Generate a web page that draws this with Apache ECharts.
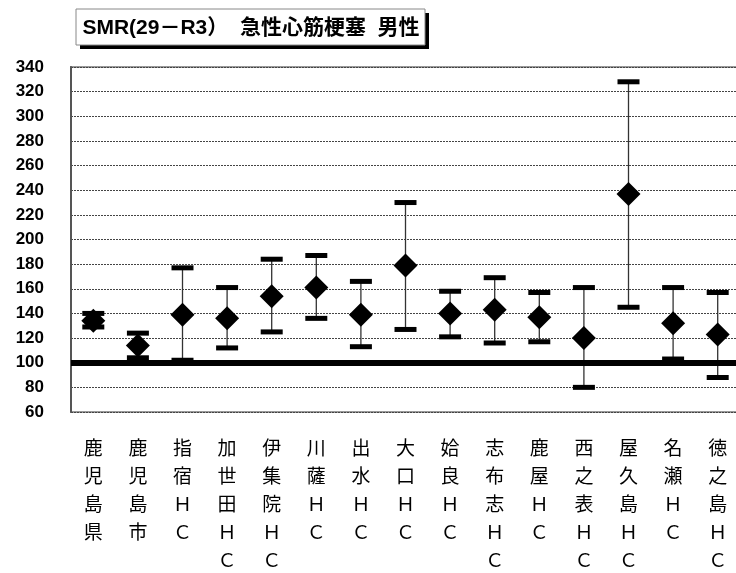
<!DOCTYPE html>
<html>
<head>
<meta charset="utf-8">
<script src="https://cdn.jsdelivr.net/npm/echarts@6/dist/echarts.min.js"></script>
<style>html,body{margin:0;padding:0;background:#fff;}#c{width:736px;height:573px;}</style>
</head>
<body>
<div id="c"></div>
<script>
const titleText = 'SMR(29－R3）  急性心筋梗塞  男性';
const categories = ['鹿児島県','鹿児島市','指宿ＨＣ','加世田ＨＣ','伊集院ＨＣ','川薩ＨＣ','出水ＨＣ','大口ＨＣ','姶良ＨＣ','志布志ＨＣ','鹿屋ＨＣ','西之表ＨＣ','屋久島ＨＣ','名瀬ＨＣ','徳之島ＨＣ'];
const smr   = [134, 114, 139, 136, 154, 161, 139, 179, 140, 143, 137, 120, 237, 132, 123];
const lower = [129, 104, 102, 112, 125, 136, 113, 127, 121, 116, 117, 80, 145, 103, 88];
const upper = [140, 124, 177, 161, 184, 187, 166, 230, 158, 169, 157, 161, 328, 161, 157];
const referenceValue = 100;
const yMin = 60, yMax = 340, yStep = 20;

const chart = echarts.init(document.getElementById('c'), null, {renderer: 'canvas'});
const errData = categories.map((c, i) => [i, lower[i], upper[i]]);

function renderErr(params, api) {
  const x = api.value(0);
  const pLo = api.coord([x, api.value(1)]);
  const pHi = api.coord([x, api.value(2)]);
  return {
    type: 'group',
    children: [
      {type: 'line', shape: {x1: pLo[0], y1: pLo[1], x2: pHi[0], y2: pHi[1]}, style: {stroke: '#333', lineWidth: 1.3}},
      {type: 'rect', shape: {x: pLo[0] - 11, y: pLo[1] - 2.5, width: 22, height: 5}, style: {fill: '#000'}},
      {type: 'rect', shape: {x: pHi[0] - 11, y: pHi[1] - 2.5, width: 22, height: 5}, style: {fill: '#000'}}
    ]
  };
}

chart.setOption({
  animation: false,
  backgroundColor: '#fff',
  grid: {left: 71, top: 67, right: -4, height: 345, outerBoundsMode: 'none', containLabel: false, show: true, borderColor: '#999', borderWidth: 2, backgroundColor: 'transparent'},
  graphic: [
    {type: 'rect', shape: {x: 80, y: 13, width: 349, height: 36}, style: {fill: '#000'}, z: 100},
    {type: 'rect', shape: {x: 76, y: 9, width: 349, height: 36}, style: {fill: '#fff', stroke: '#888', lineWidth: 1}, z: 101},
    {type: 'text', x: 251, y: 28, style: {text: titleText, fill: '#000', font: 'bold 21px "Liberation Sans", "Noto Sans CJK JP", sans-serif', align: 'center', verticalAlign: 'middle'}, z: 102}
  ],
  xAxis: {
    type: 'category',
    data: categories,
    boundaryGap: true,
    axisLine: {show: false},
    axisTick: {show: false},
    splitLine: {show: false},
    axisLabel: {
      interval: 0,
      margin: 22,
      color: '#000',
      fontSize: 19,
      lineHeight: 28,
      fontFamily: '"Noto Sans CJK JP", sans-serif',
      formatter: v => v.split('').join('\n')
    }
  },
  yAxis: {
    type: 'value',
    min: yMin, max: yMax, interval: yStep,
    axisLine: {show: true, lineStyle: {color: '#555', width: 2}},
    axisTick: {show: false},
    axisLabel: {margin: 27, color: '#000', fontSize: 17, fontWeight: 'bold', fontFamily: '"Liberation Sans", Arial, sans-serif'},
    splitLine: {show: true, lineStyle: {color: '#444', width: 1, type: [2, 1]}}
  },
  series: [
    {
      type: 'custom',
      renderItem: renderErr,
      data: errData,
      z: 3,
      markLine: {
        silent: true, symbol: 'none', label: {show: false},
        lineStyle: {color: '#000', width: 6, type: 'solid'},
        data: [{yAxis: referenceValue}]
      }
    },
    {
      type: 'scatter',
      data: smr,
      symbol: 'diamond',
      symbolSize: [24, 24],
      itemStyle: {color: '#000', opacity: 1},
      z: 5
    }
  ]
});
</script>
</body>
</html>
